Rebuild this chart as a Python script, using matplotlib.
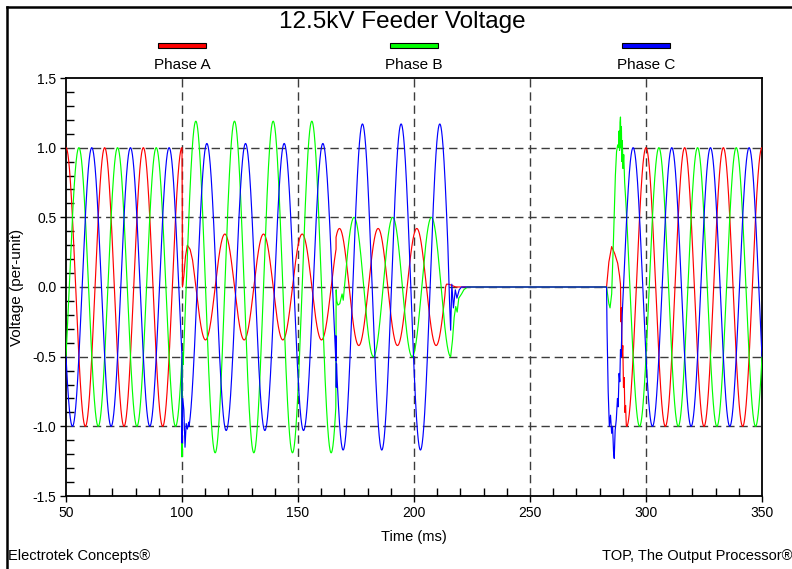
import numpy as np
import matplotlib.pyplot as plt
from matplotlib.lines import Line2D
from matplotlib.patches import Rectangle
from matplotlib.ticker import MultipleLocator

plt.rcParams['font.family'] = ['Liberation Sans', 'DejaVu Sans']

# Feeder waveform: 60 Hz, time axis in ms
FREQ_HZ = 60.0
PERIOD_MS = 1000.0 / FREQ_HZ
T_REF = 50.0  # phase A peak in pre-fault state

phase_names = ['Phase A', 'Phase B', 'Phase C']
phase_colors = ['#ff0000', '#00ff00', '#0000ff']
phase_lag_deg = [0.0, 120.0, 240.0]

# steady sinusoid stretches: (start ms, end ms, peak p.u., time shift ms)
sine_a = [(50.0, 100.0, 1.00, 0.0), (104.5, 166.4, 0.38, 1.8),
          (166.4, 213.3, 0.42, 1.2), (291.6, 350.0, 1.00, 0.0)]
sine_b = [(50.0, 99.95, 1.00, 0.0), (100.5, 166.3, 1.19, 0.4),
          (169.5, 215.8, 0.50, 1.95), (291.0, 350.0, 1.00, 0.0)]
sine_c = [(50.0, 99.95, 1.00, 0.0), (103.0, 166.3, 1.03, -0.4),
          (166.7, 214.6, 1.17, 0.0), (289.7, 350.0, 1.00, 0.0)]

# switching transients (fault, second fault, clearing, reclose) read point by point
trans_a = [
    [(100.0, 1.0), (100.1, 0.6), (100.2, 0.0), (100.8, 0.08), (101.5, 0.22),
     (102.3, 0.30), (103.5, 0.27), (104.5, 0.20)],
    [(213.6, 0.0), (214.0, 0.02), (215.0, 0.02), (216.5, 0.01), (218.0, 0.0),
     (283.0, 0.0), (284.0, 0.18), (285.2, 0.29), (286.5, 0.24), (287.8, 0.17),
     (288.6, 0.08), (289.0, 0.02), (289.2, -0.25), (289.4, -0.15), (289.7, -0.5),
     (290.0, -0.42), (290.3, -0.72), (290.6, -0.65), (290.9, -0.9), (291.2, -0.85),
     (291.5, -0.99)],
]
trans_b = [
    [(100.0, -1.22), (100.15, -0.65), (100.4, -0.47)],
    [(166.45, -0.02), (166.7, -0.10), (167.2, -0.13), (168.0, -0.12), (169.0, -0.05)],
    [(216.6, -0.38), (217.3, -0.22), (218.0, -0.14), (218.6, -0.18), (219.3, -0.08),
     (220.5, -0.05), (221.5, -0.02), (223.0, 0.0), (283.0, 0.0), (284.0, -0.12),
     (284.5, -0.15), (285.2, -0.05), (286.0, 0.35), (286.8, 0.8), (287.3, 0.97),
     (287.8, 1.02), (288.2, 1.0), (288.4, 1.12), (288.6, 0.98), (288.8, 1.18),
     (289.0, 1.22), (289.2, 1.0), (289.4, 1.15), (289.6, 0.9), (289.8, 1.05),
     (290.1, 0.85), (290.4, 0.95), (290.8, 0.75)],
]
trans_c = [
    [(100.0, -1.12), (100.3, -0.80), (100.8, -0.88), (101.3, -1.15), (101.8, -0.98),
     (102.3, -1.02), (102.9, -0.97)],
    [(166.35, -0.35), (166.5, -0.72), (166.6, -0.55)],
    [(215.3, -0.10), (215.8, -0.31), (216.3, 0.02), (217.0, -0.15), (217.8, -0.02),
     (218.5, -0.08), (219.5, -0.02), (220.5, 0.0), (283.0, 0.0), (283.2, -0.3),
     (283.7, -0.75), (284.2, -1.0), (284.7, -0.92), (285.2, -1.05), (285.6, -1.0),
     (286.0, -1.18), (286.3, -1.23), (286.7, -1.03), (287.2, -0.95), (287.7, -0.80),
     (288.0, -0.86), (288.4, -0.62), (288.7, -0.68), (289.0, -0.45), (289.3, -0.50),
     (289.6, -0.28)],
]

x_ticks = [50, 100, 150, 200, 250, 300, 350]
y_ticks = [-1.5, -1.0, -0.5, 0.0, 0.5, 1.0, 1.5]
y_tick_labels = ['-1.5', '-1.0', '-0.5', '0.0', '0.5', '1.0', '1.5']


def build_trace(sines, transients, lag_deg):
    pieces = []
    for t0, t1, amp, shift in sines:
        t = np.linspace(t0, t1, int((t1 - t0) / 0.05) + 2)
        v = amp * np.cos(2 * np.pi * (t - T_REF - shift) / PERIOD_MS - np.radians(lag_deg))
        pieces.append((t0, t, v))
    for pts in transients:
        arr = np.array(pts)
        pieces.append((arr[0, 0], arr[:, 0], arr[:, 1]))
    pieces.sort(key=lambda p: p[0])
    return np.concatenate([p[1] for p in pieces]), np.concatenate([p[2] for p in pieces])


fig = plt.figure(figsize=(7.92, 5.69), dpi=100)
ax = fig.add_axes([66 / 792, 1 - 496 / 569, 696 / 792, 418 / 569])

for sines, trans, lag, col in zip([sine_a, sine_b, sine_c], [trans_a, trans_b, trans_c],
                                  phase_lag_deg, phase_colors):
    t, v = build_trace(sines, trans, lag)
    ax.plot(t, v, color=col, lw=0.85, zorder=3)

ax.set_xlim(50, 350)
ax.set_ylim(-1.5, 1.5)
ax.set_xticks(x_ticks)
ax.set_yticks(y_ticks)
ax.set_yticklabels(y_tick_labels)
ax.xaxis.set_minor_locator(MultipleLocator(10))
ax.yaxis.set_minor_locator(MultipleLocator(0.1))
ax.tick_params(which='major', direction='out', length=4, width=1.0, labelsize=10, pad=3)
ax.tick_params(which='minor', direction='in', length=6, width=1.0)
for s in ax.spines.values():
    s.set_linewidth(1.3)

# dashed grid at the interior major ticks
for xv in x_ticks[1:-1]:
    ax.axvline(xv, color='#3c3c3c', lw=1.0, dashes=(6, 3.5), zorder=1)
for yv in y_ticks[1:-1]:
    ax.axhline(yv, color='#3c3c3c', lw=1.0, dashes=(6, 3.5), zorder=1)

# legend: coloured bars centred over 100/200/300 ms
trans_xa = ax.get_xaxis_transform()
for xc, name, col in zip([100, 200, 300], phase_names, phase_colors):
    ax.add_patch(Rectangle((xc - 10.3, 1.0725), 20.6, 0.012, transform=trans_xa,
                           facecolor=col, edgecolor='black', lw=0.8, clip_on=False))
    ax.text(xc, 1.031, name, transform=trans_xa, ha='center', va='center', fontsize=11)

fig.text(402 / 792, 1 - 22 / 569, '12.5kV Feeder Voltage', ha='center', va='center', fontsize=17.5)
fig.text(414 / 792, 1 - 537 / 569, 'Time (ms)', ha='center', va='center', fontsize=10.5)
fig.text(17 / 792, 1 - 287 / 569, 'Voltage (per-unit)', rotation=90, ha='center', va='center',
         fontsize=11)
fig.text(8 / 792, 1 - 556 / 569, 'Electrotek Concepts®', ha='left', va='center', fontsize=10.5)
fig.text(792 / 792, 1 - 556 / 569, 'TOP, The Output Processor®', ha='right', va='center',
         fontsize=10.5)

# outer frame (left and top edges visible)
fig.add_artist(Line2D([7.3 / 792, 7.3 / 792], [0, 1 - 7.3 / 569], transform=fig.transFigure,
                      color='black', lw=1.8))
fig.add_artist(Line2D([7.3 / 792, 1], [1 - 7.3 / 569, 1 - 7.3 / 569], transform=fig.transFigure,
                      color='black', lw=1.8))

fig.savefig('out.png', dpi=100)
